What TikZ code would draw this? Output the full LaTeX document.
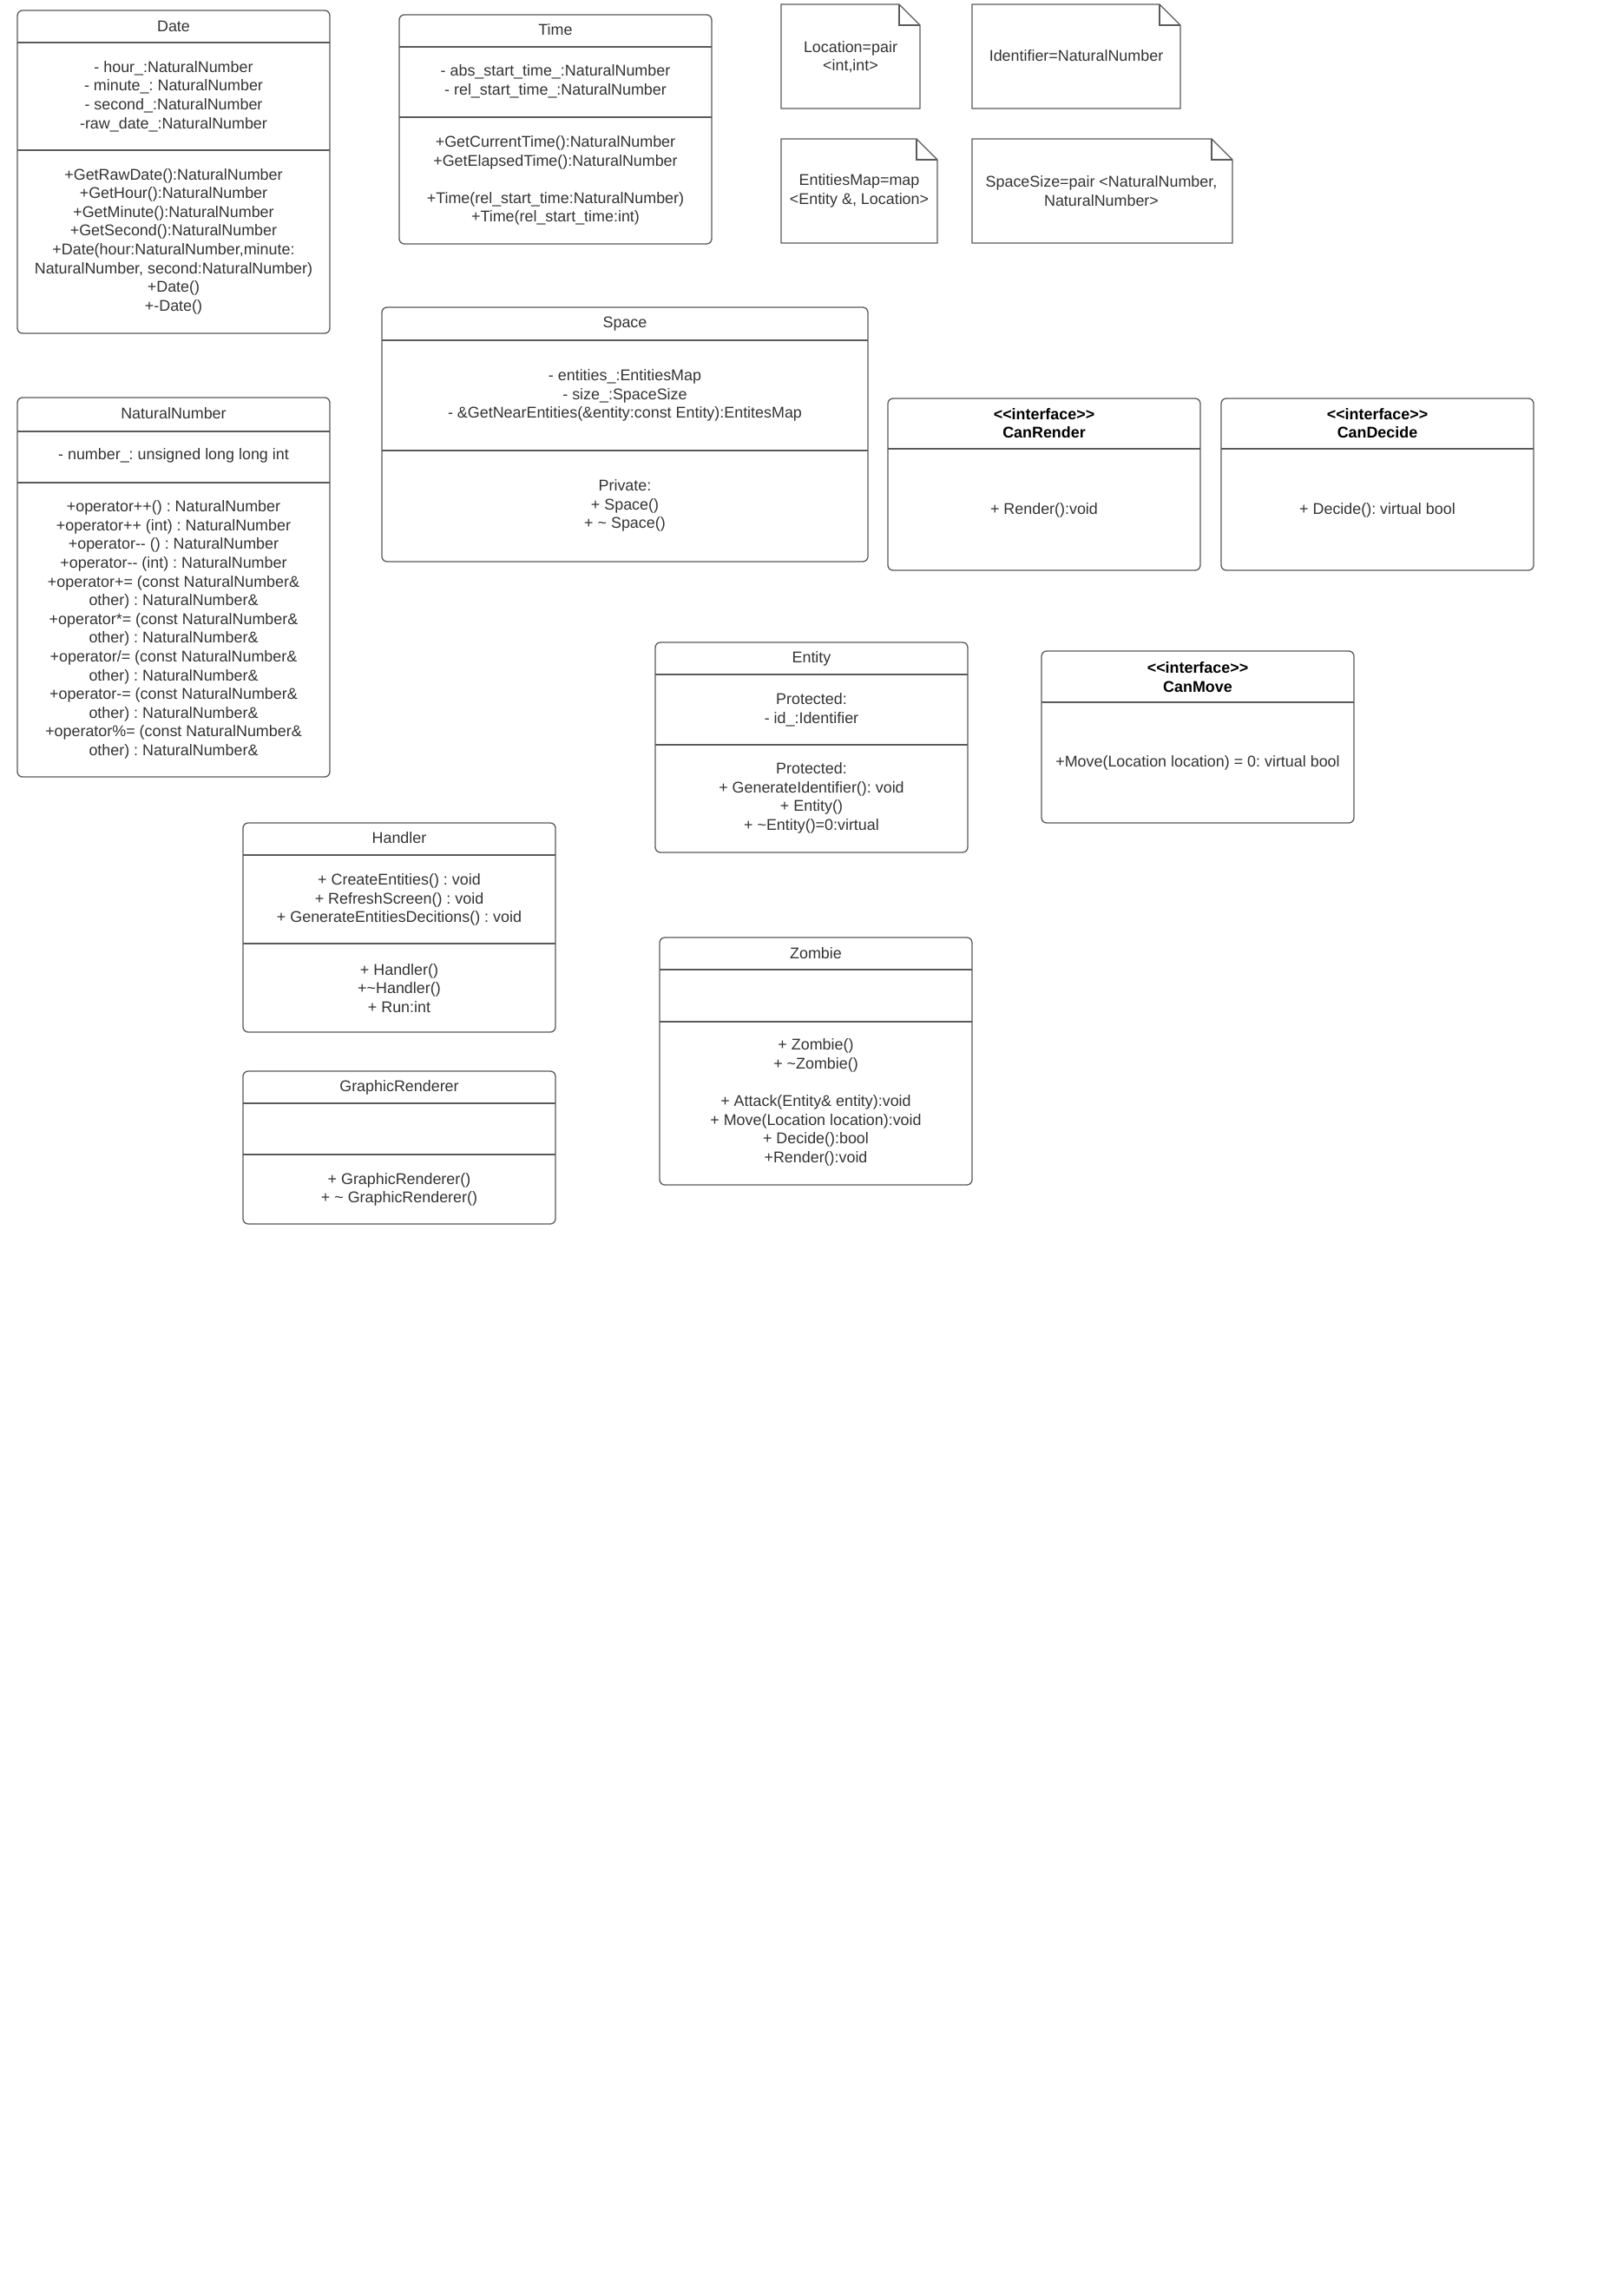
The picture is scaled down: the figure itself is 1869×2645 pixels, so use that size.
\documentclass[tikz,border=0pt]{standalone}
\usepackage{fontspec}
\setmainfont{Liberation Sans}
\definecolor{linegray}{RGB}{90,90,90}
\definecolor{textgray}{RGB}{51,51,51}
\newcommand\umlfont{\fontsize{17.9}{21.6}\selectfont\frenchspacing}
\newcommand\tl{\textasciitilde}
\begin{document}
\begin{tikzpicture}[x=1pt,y=-1pt,
  classframe/.style={draw=linegray, line width=1.3pt, rounded corners=6pt,
    inner sep=0pt, outer sep=0pt},
  divider/.style={draw=linegray, line width=1.3pt},
  notebox/.style={draw=linegray, line width=1.3pt, line join=miter},
  txt/.style={text=textgray, font=\umlfont, align=center, inner sep=0pt, yshift=-1.5pt},
  ttl/.style={align=center, inner sep=0pt, text=black, font=\umlfont\bfseries, yshift=-1.5pt},
]
\fill[white] (0,0) rectangle (1869,2645);
\useasboundingbox (0,0) rectangle (1869,2645);

% ---------- Date ----------
\node[classframe, minimum width=360, minimum height=372] (date) at (200,198) {};
\draw[divider] (20,49) -- (380,49);
\draw[divider] (20,173) -- (380,173);
\node[txt] (dateT) at (200,29) {Date};
\node[txt] (dateA) at (200,109.5) {- hour\_:NaturalNumber\\- minute\_: NaturalNumber\\- second\_:NaturalNumber\\-raw\_date\_:NaturalNumber};
\node[txt] (dateM) at (200,276.5) {+GetRawDate():NaturalNumber\\+GetHour():NaturalNumber\\+GetMinute():NaturalNumber\\+GetSecond():NaturalNumber\\+Date(hour:NaturalNumber,minute:\\NaturalNumber, second:NaturalNumber)\\+Date()\\+-Date()};

% ---------- Time ----------
\node[classframe, minimum width=360, minimum height=264] (time) at (640,149) {};
\draw[divider] (460,54) -- (820,54);
\draw[divider] (460,135) -- (820,135);
\node[txt] (timeT) at (640,33) {Time};
\node[txt] (timeA) at (640,92.5) {- abs\_start\_time\_:NaturalNumber\\- rel\_start\_time\_:NaturalNumber};
\node[txt] (timeM) at (640,206.5) {+GetCurrentTime():NaturalNumber\\+GetElapsedTime():NaturalNumber\\[21.6pt]+Time(rel\_start\_time:NaturalNumber)\\+Time(rel\_start\_time:int)};

% ---------- Type notes ----------
\draw[notebox] (900,5) -- (1036,5) -- (1060,29) -- (1060,125) -- (900,125) -- cycle;
\draw[notebox] (1036,5) -- (1036,29) -- (1060,29);
\node[txt] (locN) at (980,64) {Location=pair\\<int,int>};

\draw[notebox] (1120,5) -- (1336,5) -- (1360,29) -- (1360,125) -- (1120,125) -- cycle;
\draw[notebox] (1336,5) -- (1336,29) -- (1360,29);
\node[txt] (idN) at (1240,63) {Identifier=NaturalNumber};

\draw[notebox] (900,160) -- (1056,160) -- (1080,184) -- (1080,280) -- (900,280) -- cycle;
\draw[notebox] (1056,160) -- (1056,184) -- (1080,184);
\node[txt] (emapN) at (990,218.5) {EntitiesMap=map\\<Entity \&, Location>};

\draw[notebox] (1120,160) -- (1396,160) -- (1420,184) -- (1420,280) -- (1120,280) -- cycle;
\draw[notebox] (1396,160) -- (1396,184) -- (1420,184);
\node[txt] (ssizeN) at (1269,218.5) {SpaceSize=pair <NaturalNumber,\\NaturalNumber>};

% ---------- Space ----------
\node[classframe, minimum width=560, minimum height=293] (space) at (720,500.5) {};
\draw[divider] (440,392) -- (1000,392);
\draw[divider] (440,519) -- (1000,519);
\node[txt] (spaceT) at (720,372) {Space};
\node[txt] (spaceA) at (720,454) {- entities\_:EntitiesMap\\- size\_:SpaceSize\\- \&GetNearEntities(\&entity:const Entity):EntitesMap};
\node[txt] (spaceM) at (720,581) {Private:\\+ Space()\\+ \tl{} Space()};

% ---------- NaturalNumber ----------
\node[classframe, minimum width=360, minimum height=437] (natnum) at (200,676.5) {};
\draw[divider] (20,497) -- (380,497);
\draw[divider] (20,556) -- (380,556);
\node[txt] (natnumT) at (200,475) {NaturalNumber};
\node[txt] (natnumA) at (200,523) {- number\_: unsigned long long int};
\node[txt] (natnumM) at (200,724) {+operator++() : NaturalNumber\\+operator++ (int) : NaturalNumber\\+operator-\kern0pt- () : NaturalNumber\\+operator-\kern0pt- (int) : NaturalNumber\\+operator+= (const NaturalNumber\&\\other) : NaturalNumber\&\\+operator*= (const NaturalNumber\&\\other) : NaturalNumber\&\\+operator/= (const NaturalNumber\&\\other) : NaturalNumber\&\\+operator-= (const NaturalNumber\&\\other) : NaturalNumber\&\\+operator\%= (const NaturalNumber\&\\other) : NaturalNumber\&};

% ---------- Interfaces ----------
\node[classframe, minimum width=360, minimum height=198] (canrender) at (1203,558) {};
\draw[divider] (1023,517) -- (1383,517);
\node[ttl] (canrenderT) at (1203,486) {<\kern0pt<interface>\kern0pt>\\CanRender};
\node[txt] (canrenderM) at (1203,586) {+ Render():void};

\node[classframe, minimum width=360, minimum height=198] (candecide) at (1587,558) {};
\draw[divider] (1407,517) -- (1767,517);
\node[ttl] (candecideT) at (1587,486) {<\kern0pt<interface>\kern0pt>\\CanDecide};
\node[txt] (candecideM) at (1587,586) {+ Decide(): virtual bool};

\node[classframe, minimum width=360, minimum height=198] (canmove) at (1380,849) {};
\draw[divider] (1200,809) -- (1560,809);
\node[ttl] (canmoveT) at (1380,778.5) {<\kern0pt<interface>\kern0pt>\\CanMove};
\node[txt] (canmoveM) at (1380,877) {+Move(Location location) = 0: virtual bool};

% ---------- Entity ----------
\node[classframe, minimum width=360, minimum height=242] (entity) at (935,861) {};
\draw[divider] (755,777) -- (1115,777);
\draw[divider] (755,858) -- (1115,858);
\node[txt] (entityT) at (935,757) {Entity};
\node[txt] (entityA) at (935,816.5) {Protected:\\- id\_:Identifier};
\node[txt] (entityM) at (935,918) {Protected:\\+ GenerateIdentifier(): void\\+ Entity()\\+ \tl Entity()=0:virtual};

% ---------- Handler ----------
\node[classframe, minimum width=360, minimum height=241] (handler) at (460,1068.5) {};
\draw[divider] (280,985) -- (640,985);
\draw[divider] (280,1087) -- (640,1087);
\node[txt] (handlerT) at (460,964) {Handler};
\node[txt] (handlerA) at (460,1035) {+ CreateEntities() : void\\+ RefreshScreen() : void\\+ GenerateEntitiesDecitions() : void};
\node[txt] (handlerM) at (460,1137) {+ Handler()\\+\tl Handler()\\+ Run:int};

% ---------- GraphicRenderer ----------
\node[classframe, minimum width=360, minimum height=176] (grender) at (460,1322) {};
\draw[divider] (280,1271) -- (640,1271);
\draw[divider] (280,1330) -- (640,1330);
\node[txt] (grenderT) at (460,1251) {GraphicRenderer};
\node[txt] (grenderM) at (460,1369) {+ GraphicRenderer()\\+ \tl{} GraphicRenderer()};

% ---------- Zombie ----------
\node[classframe, minimum width=360, minimum height=285] (zombie) at (940,1222.5) {};
\draw[divider] (760,1117) -- (1120,1117);
\draw[divider] (760,1177) -- (1120,1177);
\node[txt] (zombieT) at (940,1097) {Zombie};
\node[txt] (zombieM) at (940,1268.5) {+ Zombie()\\+ \tl Zombie()\\[21.6pt]+ Attack(Entity\& entity):void\\+ Move(Location location):void\\+ Decide():bool\\+Render():void};
\end{tikzpicture}
\end{document}
